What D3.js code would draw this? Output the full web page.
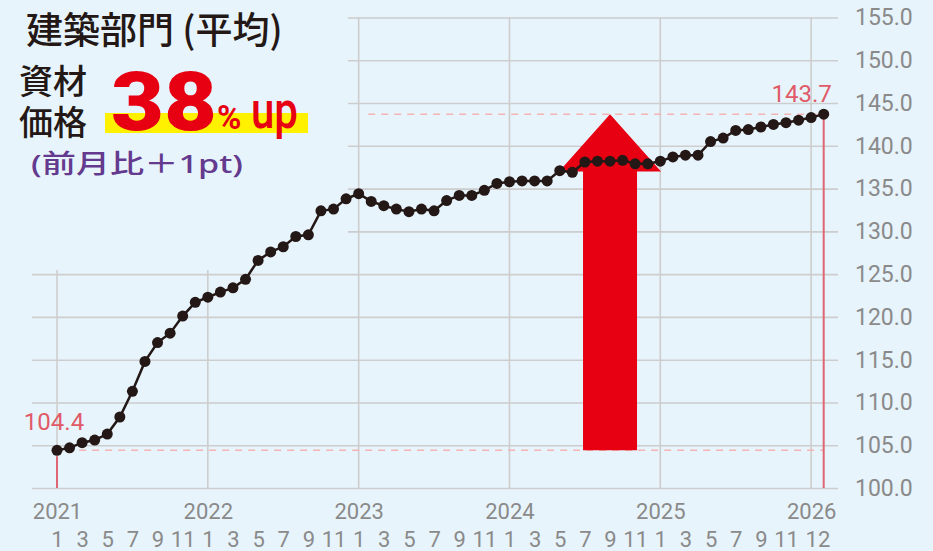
<!DOCTYPE html>
<meta charset="utf-8">
<script src="https://d3js.org/d3.v7.min.js"></script>
<style>
  body { margin: 0; background: #e8f4fc; }
  svg { display: block; }
</style>
<div id="chart"></div>
<script>

// monthly index values, Jan 2021 .. Feb 2026
var years = [2021, 2022, 2023, 2024, 2025, 2026];
var monthTicks = [1, 3, 5, 7, 9, 11];
var values = [
  104.4, 104.7, 105.3, 105.6, 106.3, 108.3, 111.3, 114.8, 117.0, 118.1, 120.1, 121.7,
  122.3, 122.9, 123.4, 124.4, 126.6, 127.6, 128.2, 129.4, 129.6, 132.4, 132.6, 133.8,
  134.4, 133.5, 133.0, 132.6, 132.3, 132.6, 132.4, 133.6, 134.2, 134.2, 134.8, 135.6,
  135.8, 135.9, 135.9, 135.9, 137.1, 136.9, 138.1, 138.2, 138.2, 138.3, 137.9, 137.9,
  138.2, 138.7, 138.9, 138.9, 140.5, 140.9, 141.8, 141.9, 142.2, 142.5, 142.7, 143.0,
  143.3, 143.7
];
var yTicks = [100, 105, 110, 115, 120, 125, 130, 135, 140, 145, 150, 155];

var width = 933, height = 551;
var gridLeft = 32, gridRight = 838;

var x = d3.scaleLinear().domain([0, 61]).range([57, 823.7]);
var y = d3.scaleLinear().domain([100, 155]).range([488, 17.5]);

var svg = d3.select("#chart").append("svg")
    .attr("width", width)
    .attr("height", height);

svg.append("rect")
    .attr("width", width).attr("height", height)
    .attr("fill", "#e8f4fc");

// horizontal grid + y labels
var yAxis = d3.axisRight(y)
    .tickValues(yTicks)
    .tickFormat(d3.format(".1f"))
    .tickSize(gridRight - gridLeft)
    .tickPadding(17);

var ya = svg.append("g")
    .attr("transform", "translate(" + gridLeft + ",0)")
    .call(yAxis);
ya.select(".domain").remove();
ya.selectAll("line").attr("stroke", "#cdcdcd").attr("stroke-width", 1.6);
ya.selectAll("text")
    .attr("fill", "#8a8a8a")
    .style("font", "23px Roboto, sans-serif");

// vertical year grid lines
var yearIdx = years.map(function(d, i) { return i * 12; });
svg.append("g").selectAll("line")
    .data(yearIdx)
  .enter().append("line")
    .attr("x1", function(d) { return x(d); })
    .attr("x2", function(d) { return x(d); })
    .attr("y1", y(155))
    .attr("y2", y(100))
    .attr("stroke", "#cdcdcd")
    .attr("stroke-width", 1.6);

// year labels
var xYear = d3.axisBottom(x)
    .tickValues(yearIdx)
    .tickFormat(function(d, i) { return years[i]; })
    .tickSize(0)
    .tickPadding(15);
var xa = svg.append("g")
    .attr("transform", "translate(0," + y(100) + ")")
    .call(xYear);
xa.select(".domain").remove();
xa.selectAll("text").attr("fill", "#8a8a8a").style("font", "22px Roboto, sans-serif");

// month labels
var monthIdx = [];
years.forEach(function(yr, i) {
  monthTicks.forEach(function(m) {
    var k = i * 12 + m - 1;
    if (k < values.length) monthIdx.push(k);
  });
});
monthIdx.push(61);
var xMonth = d3.axisBottom(x)
    .tickValues(monthIdx)
    .tickFormat(function(d) { return (d % 12) + 1; })
    .tickSize(0)
    .tickPadding(43);
var xm = svg.append("g")
    .attr("transform", "translate(0," + y(100) + ")")
    .call(xMonth);
xm.select(".domain").remove();
xm.selectAll("text").attr("fill", "#8a8a8a").style("font", "22px Roboto, sans-serif");

// title panel covers the grid in the top-left
svg.append("rect")
    .attr("x", 0).attr("y", 0)
    .attr("width", 348).attr("height", 270)
    .attr("fill", "#e8f4fc");

// dashed reference lines
var first = values[0], last = values[values.length - 1];
[[first, 2], [last, 25]].forEach(function(r) {
  svg.append("line")
      .attr("x1", x(r[1]) - 3)
      .attr("x2", x(61))
      .attr("y1", y(r[0]))
      .attr("y2", y(r[0]))
      .attr("stroke", "#f4b4b4")
      .attr("stroke-width", 1.5)
      .attr("stroke-dasharray", "7,6");
});

// red drop lines
svg.append("line")
    .attr("x1", x(0)).attr("x2", x(0))
    .attr("y1", y(first) + 6).attr("y2", y(100))
    .attr("stroke", "#e06572").attr("stroke-width", 2);
svg.append("line")
    .attr("x1", x(61)).attr("x2", x(61))
    .attr("y1", y(last)).attr("y2", y(100))
    .attr("stroke", "#e06572").attr("stroke-width", 2);

// big red arrow
var ac = x(44), headBase = y(137);
var shaftW = 27, headW = 51;
var arrow = [
  [ac - shaftW, y(first)], [ac - shaftW, headBase], [ac - headW, headBase],
  [ac, y(last)],
  [ac + headW, headBase], [ac + shaftW, headBase], [ac + shaftW, y(first)]
];
svg.append("path")
    .attr("d", d3.line()(arrow) + "Z")
    .attr("fill", "#e60012");

// line + dots
var line = d3.line()
    .x(function(d, i) { return x(i); })
    .y(function(d) { return y(d); });
svg.append("path")
    .datum(values)
    .attr("d", line)
    .attr("fill", "none")
    .attr("stroke", "#231815")
    .attr("stroke-width", 2.5);
svg.append("g").selectAll("circle")
    .data(values)
  .enter().append("circle")
    .attr("cx", function(d, i) { return x(i); })
    .attr("cy", function(d) { return y(d); })
    .attr("r", 5.5)
    .attr("fill", "#231815");

// end value labels
svg.append("text")
    .attr("x", x(0) - 3)
    .attr("y", y(first) - 20)
    .attr("text-anchor", "middle")
    .attr("fill", "#e05a68")
    .style("font", "24px Roboto, sans-serif")
    .text(d3.format(".1f")(first));
svg.append("text")
    .attr("x", x(61) - 22)
    .attr("y", y(last) - 12)
    .attr("text-anchor", "middle")
    .attr("fill", "#e05a68")
    .style("font", "24px Roboto, sans-serif")
    .text(d3.format(".1f")(last));

// title block
var jp = "'Noto Sans CJK JP', sans-serif";
svg.append("text")
    .attr("x", 26).attr("y", 44)
    .attr("fill", "#231815")
    .style("font-family", jp).style("font-size", "37px").style("font-weight", 500)
    .text("建築部門 (平均)");

svg.append("text")
    .attr("x", 19).attr("y", 94)
    .attr("fill", "#231815")
    .style("font-family", jp).style("font-size", "34px").style("font-weight", 500)
    .text("資材");
svg.append("text")
    .attr("x", 19).attr("y", 135)
    .attr("fill", "#231815")
    .style("font-family", jp).style("font-size", "34px").style("font-weight", 500)
    .text("価格");

svg.append("rect")
    .attr("x", 105).attr("y", 113)
    .attr("width", 203).attr("height", 20)
    .attr("fill", "#fff100");

svg.append("text")
    .attr("x", 111).attr("y", 130)
    .attr("fill", "#e60012")
    .attr("textLength", 106)
    .attr("lengthAdjust", "spacingAndGlyphs")
    .style("font", "900 82px Roboto, sans-serif")
    .text("38");
svg.append("text")
    .attr("x", 217).attr("y", 129)
    .attr("fill", "#e60012")
    .style("font", "700 33px Roboto, sans-serif")
    .text("%");
svg.append("text")
    .attr("x", 251).attr("y", 128)
    .attr("fill", "#e60012")
    .attr("textLength", 47)
    .attr("lengthAdjust", "spacingAndGlyphs")
    .style("font", "500 52px Roboto, sans-serif")
    .text("up");

svg.append("text")
    .attr("x", 31).attr("y", 173)
    .attr("fill", "#633a8e")
    .attr("textLength", 212)
    .attr("lengthAdjust", "spacingAndGlyphs")
    .style("font-family", "'Noto Sans', 'Noto Sans CJK JP', sans-serif")
    .style("font-size", "26px").style("font-weight", 500)
    .text("(前月比＋1pt)");

</script>
